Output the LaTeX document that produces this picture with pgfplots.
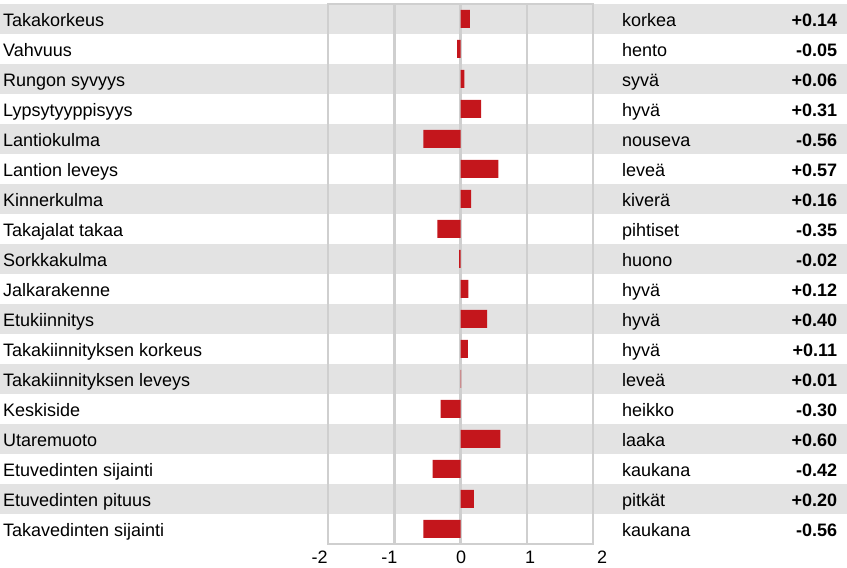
\documentclass[border=0pt]{standalone}
\usepackage{pgfplots}
\pgfplotsset{compat=1.18}
\usepackage{pgfplotstable}
\usepackage{fontspec}
\setmainfont{Liberation Sans}
\definecolor{band}{RGB}{227,227,227}
\definecolor{gridc}{RGB}{207,207,207}
\definecolor{barred}{RGB}{196,22,28}
\pgfplotstableread[col sep=semicolon]{
idx;name;dir;val;lbl
0;Takakorkeus;korkea;0.14;+0.14
1;Vahvuus;hento;-0.05;-0.05
2;Rungon syvyys;syvä;0.06;+0.06
3;Lypsytyyppisyys;hyvä;0.31;+0.31
4;Lantiokulma;nouseva;-0.56;-0.56
5;Lantion leveys;leveä;0.57;+0.57
6;Kinnerkulma;kiverä;0.16;+0.16
7;Takajalat takaa;pihtiset;-0.35;-0.35
8;Sorkkakulma;huono;-0.02;-0.02
9;Jalkarakenne;hyvä;0.12;+0.12
10;Etukiinnitys;hyvä;0.40;+0.40
11;Takakiinnityksen korkeus;hyvä;0.11;+0.11
12;Takakiinnityksen leveys;leveä;0.01;+0.01
13;Keskiside;heikko;-0.30;-0.30
14;Utaremuoto;laaka;0.60;+0.60
15;Etuvedinten sijainti;kaukana;-0.42;-0.42
16;Etuvedinten pituus;pitkät;0.20;+0.20
17;Takavedinten sijainti;kaukana;-0.56;-0.56
}\data
\pgfplotstableread[col sep=semicolon]{
pos;t
-2.128;-2
-1.072;-1
0.008;0
1.05;1
2.139;2
}\ticks
\begin{document}
\begin{tikzpicture}[font=\fontsize{18}{21}\selectfont]
\begin{axis}[
  set layers,
  scale only axis, width=265pt, height=540pt,
  xmin=-2, xmax=2, ymin=-0.5, ymax=17.5, y dir=reverse,
  clip=false,
  axis line style={gridc, line width=2.5pt},
  xtick={-1,0,1}, xticklabels={,,},
  ytick=\empty,
  major tick length=0pt,
  tick style={draw=none},
  xmajorgrids, major grid style={gridc, line width=2.5pt},
]
\begin{pgfonlayer}{axis background}
\pgfplotsinvokeforeach{0,2,...,16}{
  \fill[band] (axis cs:-6.951,#1-0.5) rectangle (axis cs:5.834,#1+0.5);
}
\end{pgfonlayer}
\path (axis cs:-6.951,-0.633) rectangle (axis cs:5.834,18.267);
\addplot[xbar, bar width=18pt, bar shift=0pt, fill=barred, draw=none] table[x=val, y=idx] {\data};
\addplot[draw=none, mark=none, nodes near coords, point meta=explicit symbolic,
  nodes near coords style={anchor=base west, inner sep=0pt}]
  table[x expr=-6.906, y expr=\thisrow{idx}+0.26, meta=name] {\data};
\addplot[draw=none, mark=none, nodes near coords, point meta=explicit symbolic,
  nodes near coords style={anchor=base west, inner sep=0pt}]
  table[x expr=2.438, y expr=\thisrow{idx}+0.26, meta=dir] {\data};
\addplot[draw=none, mark=none, nodes near coords, point meta=explicit symbolic,
  nodes near coords style={anchor=base east, inner sep=0pt, font=\fontsize{18}{21}\selectfont\bfseries}]
  table[x expr=5.688, y expr=\thisrow{idx}+0.26, meta=lbl] {\data};
\addplot[draw=none, mark=none, nodes near coords, point meta=explicit symbolic,
  nodes near coords style={anchor=base, inner sep=0pt}]
  table[x=pos, y expr=18.15, meta=t] {\ticks};
\end{axis}
\end{tikzpicture}
\end{document}
